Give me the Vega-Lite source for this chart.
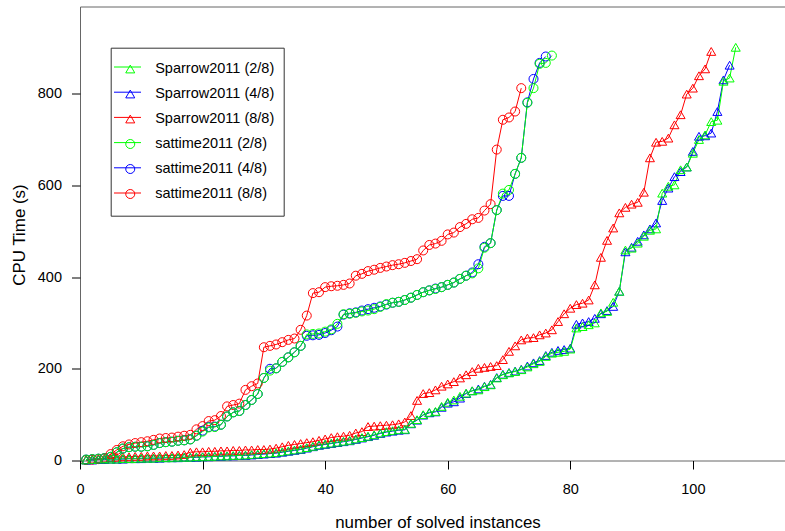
{
  "$schema": "https://vega.github.io/schema/vega-lite/v6.json",
  "width": 706,
  "height": 454,
  "autosize": {"type": "none"},
  "padding": {"left": 80, "top": 6.5, "right": 0, "bottom": 70},
  "background": "white",
  "config": {
    "view": {"stroke": "#666666", "strokeWidth": 1},
    "font": "Liberation Sans",
    "axis": {
      "domain": false,
      "grid": false,
      "tickColor": "black",
      "tickSize": 8.5,
      "tickWidth": 1,
      "labelColor": "black",
      "labelFont": "Liberation Sans",
      "labelFontSize": 14.5,
      "titleFont": "Liberation Sans",
      "titleFontSize": 16.9,
      "titleFontWeight": "normal",
      "titleColor": "black"
    }
  },
  "datasets": {
    "runs": [
      {"x":1,"sp2":1,"sp4":1,"sp8":2,"st2":2,"st4":2,"st8":1},
      {"x":2,"sp2":2,"sp4":1,"sp8":3,"st2":3,"st4":3,"st8":2},
      {"x":3,"sp2":2,"sp4":2,"sp8":4,"st2":4,"st4":4,"st8":3},
      {"x":4,"sp2":3,"sp4":2,"sp8":5,"st2":5,"st4":5,"st8":5},
      {"x":5,"sp2":3,"sp4":3,"sp8":6,"st2":8,"st4":8,"st8":14},
      {"x":6,"sp2":3,"sp4":3,"sp8":7,"st2":18,"st4":18,"st8":23},
      {"x":7,"sp2":4,"sp4":3,"sp8":8,"st2":26,"st4":26,"st8":31},
      {"x":8,"sp2":4,"sp4":4,"sp8":8,"st2":29,"st4":29,"st8":35},
      {"x":9,"sp2":4,"sp4":4,"sp8":9,"st2":30,"st4":30,"st8":38},
      {"x":10,"sp2":5,"sp4":4,"sp8":9,"st2":30,"st4":30,"st8":40},
      {"x":11,"sp2":5,"sp4":5,"sp8":10,"st2":31,"st4":31,"st8":42},
      {"x":12,"sp2":5,"sp4":5,"sp8":10,"st2":34,"st4":34,"st8":45},
      {"x":13,"sp2":6,"sp4":5,"sp8":10,"st2":38,"st4":38,"st8":48},
      {"x":14,"sp2":6,"sp4":6,"sp8":11,"st2":40,"st4":40,"st8":49},
      {"x":15,"sp2":6,"sp4":6,"sp8":11,"st2":41,"st4":41,"st8":50},
      {"x":16,"sp2":7,"sp4":6,"sp8":12,"st2":43,"st4":43,"st8":52},
      {"x":17,"sp2":7,"sp4":7,"sp8":13,"st2":44,"st4":44,"st8":54},
      {"x":18,"sp2":7,"sp4":7,"sp8":18,"st2":46,"st4":46,"st8":56},
      {"x":19,"sp2":8,"sp4":7,"sp8":19,"st2":54,"st4":54,"st8":68},
      {"x":20,"sp2":8,"sp4":8,"sp8":19,"st2":63,"st4":65,"st8":75},
      {"x":21,"sp2":9,"sp4":8,"sp8":20,"st2":72,"st4":73,"st8":86},
      {"x":22,"sp2":9,"sp4":9,"sp8":20,"st2":73,"st4":74,"st8":88},
      {"x":23,"sp2":10,"sp4":9,"sp8":21,"st2":78,"st4":78,"st8":97},
      {"x":24,"sp2":10,"sp4":10,"sp8":21,"st2":96,"st4":96,"st8":118},
      {"x":25,"sp2":11,"sp4":10,"sp8":22,"st2":105,"st4":105,"st8":121},
      {"x":26,"sp2":11,"sp4":11,"sp8":22,"st2":108,"st4":108,"st8":124},
      {"x":27,"sp2":12,"sp4":11,"sp8":23,"st2":121,"st4":121,"st8":154},
      {"x":28,"sp2":13,"sp4":12,"sp8":23,"st2":132,"st4":132,"st8":162},
      {"x":29,"sp2":14,"sp4":13,"sp8":24,"st2":145,"st4":145,"st8":168},
      {"x":30,"sp2":15,"sp4":14,"sp8":24,"st2":180,"st4":180,"st8":247},
      {"x":31,"sp2":16,"sp4":15,"sp8":25,"st2":196,"st4":200,"st8":250},
      {"x":32,"sp2":17,"sp4":16,"sp8":27,"st2":201,"st4":201,"st8":253},
      {"x":33,"sp2":19,"sp4":18,"sp8":30,"st2":215,"st4":215,"st8":258},
      {"x":34,"sp2":21,"sp4":20,"sp8":33,"st2":225,"st4":225,"st8":263},
      {"x":35,"sp2":23,"sp4":22,"sp8":35,"st2":236,"st4":236,"st8":266},
      {"x":36,"sp2":25,"sp4":24,"sp8":37,"st2":250,"st4":250,"st8":285},
      {"x":37,"sp2":28,"sp4":27,"sp8":39,"st2":275,"st4":272,"st8":316},
      {"x":38,"sp2":31,"sp4":30,"sp8":41,"st2":276,"st4":273,"st8":365},
      {"x":39,"sp2":34,"sp4":33,"sp8":44,"st2":277,"st4":274,"st8":367},
      {"x":40,"sp2":36,"sp4":35,"sp8":47,"st2":281,"st4":278,"st8":378},
      {"x":41,"sp2":38,"sp4":37,"sp8":50,"st2":286,"st4":284,"st8":380},
      {"x":42,"sp2":40,"sp4":39,"sp8":52,"st2":298,"st4":292,"st8":381},
      {"x":43,"sp2":42,"sp4":41,"sp8":53,"st2":319,"st4":318,"st8":383},
      {"x":44,"sp2":44,"sp4":43,"sp8":55,"st2":320,"st4":321,"st8":386},
      {"x":45,"sp2":47,"sp4":46,"sp8":60,"st2":322,"st4":323,"st8":403},
      {"x":46,"sp2":50,"sp4":49,"sp8":63,"st2":325,"st4":327,"st8":407},
      {"x":47,"sp2":53,"sp4":52,"sp8":74,"st2":327,"st4":330,"st8":413},
      {"x":48,"sp2":56,"sp4":55,"sp8":75,"st2":330,"st4":333,"st8":416},
      {"x":49,"sp2":60,"sp4":59,"sp8":76,"st2":335,"st4":336,"st8":420},
      {"x":50,"sp2":63,"sp4":62,"sp8":77,"st2":341,"st4":340,"st8":423},
      {"x":51,"sp2":65,"sp4":64,"sp8":78,"st2":344,"st4":344,"st8":426},
      {"x":52,"sp2":67,"sp4":66,"sp8":80,"st2":346,"st4":346,"st8":428},
      {"x":53,"sp2":68,"sp4":67,"sp8":84,"st2":350,"st4":350,"st8":431},
      {"x":54,"sp2":81,"sp4":80,"sp8":98,"st2":355,"st4":355,"st8":435},
      {"x":55,"sp2":89,"sp4":88,"sp8":131,"st2":361,"st4":361,"st8":439},
      {"x":56,"sp2":100,"sp4":99,"sp8":146,"st2":367,"st4":367,"st8":458},
      {"x":57,"sp2":105,"sp4":104,"sp8":148,"st2":371,"st4":371,"st8":470},
      {"x":58,"sp2":107,"sp4":106,"sp8":154,"st2":374,"st4":375,"st8":473},
      {"x":59,"sp2":118,"sp4":116,"sp8":162,"st2":378,"st4":378,"st8":479},
      {"x":60,"sp2":127,"sp4":125,"sp8":167,"st2":383,"st4":383,"st8":493},
      {"x":61,"sp2":132,"sp4":128,"sp8":172,"st2":388,"st4":388,"st8":497},
      {"x":62,"sp2":140,"sp4":136,"sp8":180,"st2":396,"st4":396,"st8":509},
      {"x":63,"sp2":147,"sp4":146,"sp8":187,"st2":403,"st4":403,"st8":516},
      {"x":64,"sp2":152,"sp4":152,"sp8":194,"st2":408,"st4":410,"st8":526},
      {"x":65,"sp2":154,"sp4":156,"sp8":201,"st2":419,"st4":428,"st8":529},
      {"x":66,"sp2":161,"sp4":162,"sp8":203,"st2":464,"st4":466,"st8":545},
      {"x":67,"sp2":165,"sp4":166,"sp8":205,"st2":474,"st4":474,"st8":559},
      {"x":68,"sp2":180,"sp4":181,"sp8":207,"st2":546,"st4":546,"st8":678},
      {"x":69,"sp2":187,"sp4":188,"sp8":220,"st2":582,"st4":577,"st8":743},
      {"x":70,"sp2":191,"sp4":192,"sp8":238,"st2":590,"st4":577,"st8":748},
      {"x":71,"sp2":194,"sp4":195,"sp8":250,"st2":625,"st4":625,"st8":761},
      {"x":72,"sp2":198,"sp4":199,"sp8":263,"st2":660,"st4":660,"st8":812},
      {"x":73,"sp2":204,"sp4":206,"sp8":267,"st2":780,"st4":781},
      {"x":74,"sp2":211,"sp4":213,"sp8":268,"st2":812,"st4":832},
      {"x":75,"sp2":216,"sp4":218,"sp8":274,"st2":865,"st4":867},
      {"x":76,"sp2":227,"sp4":229,"sp8":278,"st2":867,"st4":881},
      {"x":77,"sp2":234,"sp4":236,"sp8":285,"st2":883},
      {"x":78,"sp2":236,"sp4":240,"sp8":303},
      {"x":79,"sp2":238,"sp4":242,"sp8":320},
      {"x":80,"sp2":243,"sp4":245,"sp8":332},
      {"x":81,"sp2":289,"sp4":297,"sp8":340},
      {"x":82,"sp2":292,"sp4":300,"sp8":343},
      {"x":83,"sp2":296,"sp4":303,"sp8":350},
      {"x":84,"sp2":300,"sp4":310,"sp8":383},
      {"x":85,"sp2":322,"sp4":320,"sp8":443},
      {"x":86,"sp2":325,"sp4":327,"sp8":480},
      {"x":87,"sp2":345,"sp4":336,"sp8":507},
      {"x":88,"sp2":369,"sp4":369,"sp8":540},
      {"x":89,"sp2":459,"sp4":455,"sp8":552},
      {"x":90,"sp2":463,"sp4":465,"sp8":559},
      {"x":91,"sp2":474,"sp4":478,"sp8":563},
      {"x":92,"sp2":489,"sp4":492,"sp8":585},
      {"x":93,"sp2":502,"sp4":505,"sp8":660},
      {"x":94,"sp2":505,"sp4":518,"sp8":694},
      {"x":95,"sp2":583,"sp4":567,"sp8":696},
      {"x":96,"sp2":598,"sp4":594,"sp8":703},
      {"x":97,"sp2":601,"sp4":619,"sp8":732},
      {"x":98,"sp2":634,"sp4":630,"sp8":754},
      {"x":99,"sp2":640,"sp4":640,"sp8":799},
      {"x":100,"sp2":670,"sp4":674,"sp8":812},
      {"x":101,"sp2":700,"sp4":707,"sp8":839},
      {"x":102,"sp2":710,"sp4":708,"sp8":854},
      {"x":103,"sp2":739,"sp4":714,"sp8":892},
      {"x":104,"sp2":742,"sp4":761},
      {"x":105,"sp2":827,"sp4":830},
      {"x":106,"sp2":834,"sp4":862},
      {"x":107,"sp2":901}
    ]
  },
  "encoding": {
    "x": {
      "field": "x",
      "type": "quantitative",
      "scale": {"domain": [0, 115.2], "nice": false, "zero": false},
      "axis": {
        "values": [0, 20, 40, 60, 80, 100],
        "labelPadding": 13,
        "title": "number of solved instances",
        "titleX": 357.5,
        "titleY": 67,
        "titleBaseline": "alphabetic",
        "titleAlign": "center",
        "labelFlush": false,
        "labelOverlap": false
      }
    },
    "y": {
      "field": "y",
      "type": "quantitative",
      "scale": {"domain": [0, 990], "nice": false, "zero": false},
      "axis": {
        "values": [0, 200, 400, 600, 800],
        "labelPadding": 10,
        "title": "CPU Time (s)",
        "titleX": -55.5,
        "titleY": 228,
        "titleAngle": 270,
        "titleBaseline": "alphabetic",
        "titleAlign": "center",
        "labelFlush": false,
        "labelOverlap": false
      }
    }
  },
  "layer": [
    {
      "data": {"name": "runs"},
      "transform": [
        {"fold": ["sp8", "sp4", "sp2", "st8", "st4", "st2"], "as": ["run", "y"]},
        {"filter": "isValid(datum.y)"}
      ],
      "mark": {"type": "line", "strokeWidth": 1},
      "encoding": {
        "stroke": {
          "field": "run",
          "type": "nominal",
          "scale": {
            "domain": ["st8", "st4", "st2", "sp8", "sp4", "sp2"],
            "range": ["#FF0000", "#0000FF", "#00FF00", "#FF0000", "#0000FF", "#00FF00"]
          },
          "legend": {
            "orient": "none",
            "legendX": 33.5,
            "legendY": 46.5,
            "title": null,
            "values": ["sp2", "sp4", "sp8", "st2", "st4", "st8"],
            "symbolType": "stroke",
            "symbolSize": 729,
            "symbolStrokeWidth": 1,
            "labelExpr": "''",
            "rowPadding": 6.2,
            "padding": 0
          }
        }
      }
    },
    {
      "data": {"name": "runs"},
      "transform": [
        {"fold": ["sp8", "sp4", "sp2", "st8", "st4", "st2"], "as": ["series", "y"]},
        {"filter": "isValid(datum.y)"}
      ],
      "mark": {"type": "point", "filled": false, "strokeWidth": 1, "opacity": 1},
      "encoding": {
        "color": {
          "field": "series",
          "type": "nominal",
          "scale": {
            "domain": ["sp2", "sp4", "sp8", "st2", "st4", "st8"],
            "range": ["#00FF00", "#0000FF", "#FF0000", "#00FF00", "#0000FF", "#FF0000"]
          },
          "legend": {
            "orient": "none",
            "legendX": 30.7,
            "legendY": 41.2,
            "title": null,
            "padding": 9,
            "clipHeight": 24.6,
            "rowPadding": 0,
            "symbolOffset": 3.3,
            "labelOffset": 17.7,
            "strokeColor": "#333333",
            "labelFont": "Liberation Sans",
            "labelFontSize": 14.5,
            "labelColor": "black",
            "symbolStrokeWidth": 1,
            "labelExpr": "datum.label == 'sp2' ? 'Sparrow2011 (2/8)' : datum.label == 'sp4' ? 'Sparrow2011 (4/8)' : datum.label == 'sp8' ? 'Sparrow2011 (8/8)' : datum.label == 'st2' ? 'sattime2011 (2/8)' : datum.label == 'st4' ? 'sattime2011 (4/8)' : 'sattime2011 (8/8)'"
          }
        },
        "shape": {
          "field": "series",
          "type": "nominal",
          "scale": {
            "domain": ["sp2", "sp4", "sp8", "st2", "st4", "st8"],
            "range": ["triangle-up", "triangle-up", "triangle-up", "circle", "circle", "circle"]
          }
        },
        "size": {
          "field": "series",
          "type": "nominal",
          "scale": {
            "domain": ["sp2", "sp4", "sp8", "st2", "st4", "st8"],
            "range": [81, 81, 81, 53, 53, 53]
          }
        }
      }
    },
    {
      "data": {"values": [{}]},
      "mark": {"type": "rule", "color": "black", "strokeWidth": 1},
      "encoding": {
        "x": {"datum": 0, "type": "quantitative"},
        "x2": {"datum": 100},
        "y": {"datum": 0, "type": "quantitative"}
      }
    },
    {
      "data": {"values": [{}]},
      "mark": {"type": "rule", "color": "black", "strokeWidth": 1},
      "encoding": {
        "x": {"datum": 0, "type": "quantitative"},
        "y": {"datum": 0, "type": "quantitative"},
        "y2": {"datum": 800}
      }
    }
  ]
}
